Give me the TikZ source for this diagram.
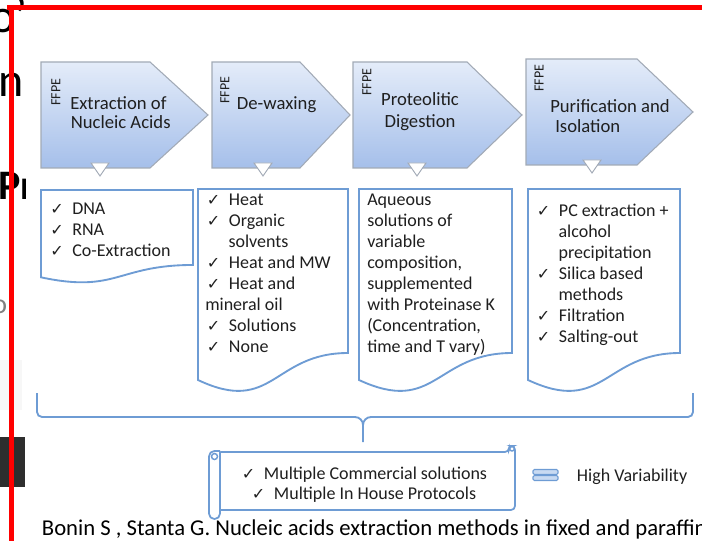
\documentclass[tikz,border=0pt]{standalone}
\usepackage{fontspec}
\setmainfont{Carlito}
\newfontfamily\symfont{DejaVu Sans}
\definecolor{stagetop}{HTML}{E4ECF9}
\definecolor{stagebot}{HTML}{A5BFEA}
\definecolor{stageline}{HTML}{A2AAB6}
\definecolor{docline}{HTML}{6E9CD4}
\definecolor{barfill}{HTML}{C8DAF2}
\definecolor{ink}{HTML}{1F1F1F}
\newcommand{\ck}{\makebox[16.5pt][l]{\symfont\fontsize{12}{12}\selectfont ✓}}
\tikzset{
  stage/.style={draw=stageline,line width=0.8pt,top color=stagetop,bottom color=stagebot},
  notch/.style={draw=stageline,fill=white,line width=0.7pt},
  doc/.style={draw=docline,line width=1.4pt,fill=white},
  brace/.style={draw=docline,line width=1.4pt},
  ffpe/.style={rotate=90,inner sep=0pt,text=ink,font=\fontsize{10.5}{10.5}\selectfont},
  title/.style={inner sep=0pt,anchor=base west,text=ink,font=\fontsize{14}{14}\selectfont},
  item/.style={inner sep=0pt,anchor=base west,text=ink,font=\fontsize{13.5}{14}\selectfont},
  frag/.style={inner sep=0pt,anchor=base west,font=\fontsize{36}{36}\selectfont}
}

\begin{document}
\begin{tikzpicture}[x=0.75pt,y=-0.75pt]
  \useasboundingbox (0,0) rectangle (702,541);
  \clip (0,0) rectangle (702,541);
  % bits of the slide behind
  \begin{scope}
    \clip (0,0) rectangle (25,541);
    \node[frag] (g1) at (-10,33) {o’};
    \node[frag] (g2) at (-2,97) {n};
    \node[frag,font=\bfseries\fontsize{31.5}{31.5}\selectfont] (g3) at (-2,200) {Pr};
    \node[frag,text=gray,font=\fontsize{21}{21}\selectfont] (g4) at (-8,313) {ol};
    \fill[gray!6] (0,360) rectangle (22,410);
    \fill[black!82] (0,437) rectangle (25,487);
  \end{scope}

  % stages
  \foreach \lx/\sx/\tx/\ty/\cx/\nm in {41/150/208/62/100/s1,212/300/350/62/263/s2,353/467/522/62/417/s3,526/637/693/59/592/s4}{
    \draw[stage] (\lx,\ty) -- (\sx,\ty) -- (\tx,\ty+53) -- (\sx,\ty+106) -- (\lx,\ty+106) -- cycle;
    \draw[notch] (\cx-9,\ty+101) -- (\cx+9,\ty+101) -- (\cx,\ty+114) -- cycle;
    \coordinate (\nm) at (\lx,\ty);
  }
  \node[ffpe] (f1) at (56,92) {FFPE};
  \node[ffpe] (f2) at (225,90) {FFPE};
  \node[ffpe] (f3) at (367,82) {FFPE};
  \node[ffpe] (f4) at (539,78) {FFPE};
  \node[title] (t1a) at (70,110) {Extraction of};
  \node[title] (t1b) at (70.5,128.3) {Nucleic Acids};
  \node[title] (t2) at (236.7,110) {De-waxing};
  \node[title,anchor=base] (t3a) at (420,106) {Proteolitic};
  \node[title,anchor=base] (t3b) at (420,127.3) {Digestion};
  \node[title] (t4a) at (550,112.7) {Purification and};
  \node[title] (t4b) at (555,132.7) {Isolation};

  % documents
  \foreach \lx/\rx/\ty/\hy in {41/193/190/93.5,198/348/189/204.5,359/512/189/204.5,528/680/189/204.5}
    \draw[doc] (\lx,\ty) -- (\rx,\ty) -- (\rx,\ty+0.802*\hy)
      .. controls ({(\lx+\rx)/2},\ty+0.802*\hy) and ({(\lx+\rx)/2},\ty+1.1075*\hy) .. (\lx,\ty+0.934*\hy) -- cycle;

  \foreach \txt [count=\i from 0] in {DNA,RNA,Co-Extraction}
    \node[item] (a\i) at (50,214.3+20.9*\i) {\ck\txt};
  \foreach \xx/\txt [count=\i from 0] in {206.7/\ck Heat,206.7/\ck Organic,228.3/solvents,206.7/\ck Heat and MW,206.7/\ck Heat and,205/mineral oil,206.7/\ck Solutions,206.7/\ck None}
    \node[item] (b\i) at (\xx,206+20.9*\i) {\txt};
  \foreach \txt [count=\i from 0] in {Aqueous,solutions of,variable,{composition,},supplemented,with Proteinase K,{(Concentration,},time and T vary)}
    \node[item] (c\i) at (367,206+20.9*\i) {\txt};
  \foreach \xx/\txt [count=\i from 0] in {536.7/\ck PC extraction +,558.3/alcohol,558.3/precipitation,536.7/\ck Silica based,558.3/methods,536.7/\ck Filtration,536.7/\ck Salting-out}
    \node[item] (d\i) at (\xx,216.7+20.9*\i) {\txt};

  % brace
  \coordinate (bl) at (37,393);
  \coordinate (br) at (693,393);
  \coordinate (bm) at (363,442);
  \draw[brace] (bl) -- (37,412) to[out=-90,in=180] (42,417) -- (355,417) to[out=0,in=90] (363,425) -- (bm);
  \draw[brace] (br) -- (693,412) to[out=-90,in=0] (688,417) -- (371,417) to[out=180,in=90] (363,425);

  % scroll
  \draw[doc,line width=1.3pt,rounded corners=3] (220,510) -- (515,510) -- (515,446) -- (509,446) -- (509,452) -- (214,452);
  \draw[brace,line width=1.1pt] (512,448.5) circle[radius=2.5];
  \draw[doc,line width=1.3pt,rounded corners=4] (220,452) -- (220,519) -- (209,519) -- (209,451) -- (220,451);
  \draw[brace,line width=1.1pt] (214.5,456.5) circle[radius=3];
  \node[item] (m1) at (241.7,479) {\ck Multiple Commercial solutions};
  \node[item] (m2) at (251.7,499) {\ck Multiple In House Protocols};

  % equals sign
  \draw[draw=docline,fill=barfill,line width=0.8pt,rounded corners=1] (533,469.5) rectangle (558,474.5);
  \draw[draw=docline,fill=barfill,line width=0.8pt,rounded corners=1] (533,475.5) rectangle (558,480.5);
  \node[item] (hv) at (576.7,481.7) {High Variability};

  \node[item,text=black,font=\fontsize{17}{17}\selectfont] (ref) at (41.7,535) {Bonin S , Stanta G. Nucleic acids extraction methods in fixed and paraffin};

  % red frame
  \draw[red,line width=3.75pt] (7,7.5) -- (702,7.5);
  \draw[red,line width=3.75pt] (11.5,5) -- (11.5,541);
\end{tikzpicture}
\end{document}
